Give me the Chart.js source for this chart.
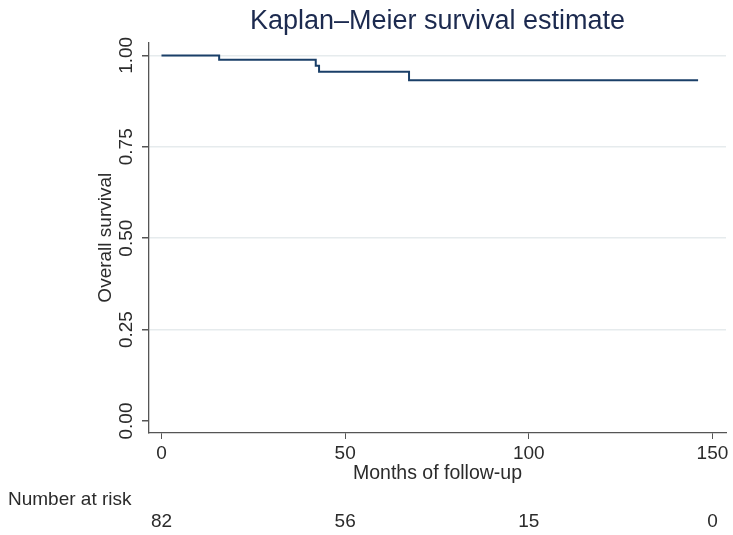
<!DOCTYPE html>
<html>
<head>
<meta charset="utf-8">
<script src="https://cdn.jsdelivr.net/npm/chart.js@4.4.0/dist/chart.umd.min.js"></script>
<style>
  html, body { margin: 0; padding: 0; background: #ffffff; }
  #wrap { width: 733px; height: 535px; }
</style>
</head>
<body>
<div id="wrap"><canvas id="c" width="733" height="535"></canvas></div>
<script>
// ---- data ----
const eventTimes = [0, 15.7, 42.0, 42.9, 67.4, 146.1];          // months
const survival   = [1.0, 0.9878, 0.9713, 0.955, 0.932, 0.932];   // KM estimate
const xTickValues = [0, 50, 100, 150];
const yTickValues = [0, 0.25, 0.5, 0.75, 1.0];
const riskTimes  = [0, 50, 100, 150];
const riskCounts = [82, 56, 15, 0];
const chartTitle = 'Kaplan\u2013Meier survival estimate';
const xTitle = 'Months of follow-up';
const yTitle = 'Overall survival';
const riskTitle = 'Number at risk';

const FONT = "'Liberation Sans', Arial, Helvetica, sans-serif";
const TXT = '#2b2b2b';

const riskPlugin = {
  id: 'riskTable',
  afterDraw(chart) {
    const ctx = chart.ctx;
    const xs = chart.scales.x;
    ctx.save();
    ctx.font = '19px ' + FONT;
    ctx.fillStyle = TXT;
    ctx.textBaseline = 'alphabetic';
    ctx.textAlign = 'left';
    ctx.fillText(riskTitle, 8, 505);
    ctx.textAlign = 'center';
    riskTimes.forEach((t, i) => {
      ctx.fillText(String(riskCounts[i]), xs.getPixelForValue(t), 527);
    });
    ctx.restore();
  }
};

new Chart(document.getElementById('c'), {
  type: 'line',
  data: {
    datasets: [{
      data: eventTimes.map((t, i) => ({ x: t, y: survival[i] })),
      stepped: true,
      borderColor: '#1a3f68',
      borderWidth: 2,
      pointRadius: 0,
      fill: false
    }]
  },
  options: {
    responsive: false,
    animation: false,
    layout: { padding: { left: 0, right: 7, top: 0, bottom: 0 } },
    plugins: {
      legend: { display: false },
      tooltip: { enabled: false },
      title: {
        display: true,
        text: chartTitle,
        fullSize: false,
        color: '#1c2a4f',
        font: { family: FONT, size: 27, weight: 'normal' },
        padding: { top: 5, bottom: 5 }
      }
    },
    scales: {
      x: {
        type: 'linear',
        min: -3.4,
        max: 153.7,
        afterBuildTicks(s) { s.ticks = xTickValues.map(v => ({ value: v })); },
        afterFit(s) { s.height = 102; },
        border: { display: true, color: '#555555', width: 1.3 },
        grid: { drawOnChartArea: false, drawTicks: true, tickLength: 6, tickColor: '#555555' },
        ticks: {
          color: TXT,
          font: { family: FONT, size: 19 },
          padding: 3,
          maxRotation: 0,
          minRotation: 0
        },
        title: {
          display: true,
          text: xTitle,
          color: TXT,
          font: { family: FONT, size: 19.5 },
          padding: { top: 0, bottom: 50 }
        }
      },
      y: {
        type: 'linear',
        min: -0.0328,
        max: 1.0355,
        afterBuildTicks(s) { s.ticks = yTickValues.map(v => ({ value: v })); },
        afterFit(s) { s.width = 149; },
        border: { display: true, color: '#555555', width: 1.3 },
        grid: {
          drawOnChartArea: true,
          drawTicks: true,
          tickLength: 7,
          color: (c) => (c.tick && c.tick.value === 0) ? 'rgba(0,0,0,0)' : '#e6ebed',
          tickColor: '#555555',
          lineWidth: 1.5
        },
        ticks: {
          color: TXT,
          font: { family: FONT, size: 19 },
          minRotation: 90,
          maxRotation: 90,
          crossAlign: 'center',
          padding: -3,
          callback: (v) => Number(v).toFixed(2)
        },
        title: {
          display: true,
          text: yTitle,
          color: TXT,
          font: { family: FONT, size: 19 },
          padding: { top: 94, bottom: 0 }
        }
      }
    }
  },
  plugins: [riskPlugin]
});
</script>
</body>
</html>
